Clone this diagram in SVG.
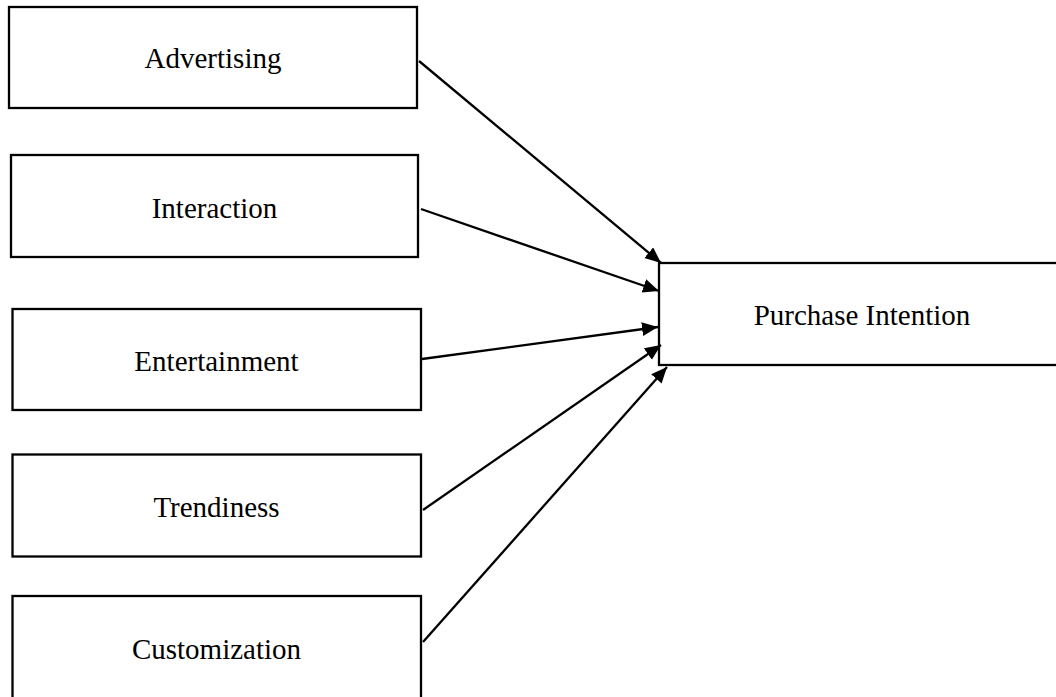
<svg xmlns="http://www.w3.org/2000/svg" width="1056" height="697" viewBox="0 0 1056 697">
<style>
.box{fill:#fff;stroke:#000;stroke-width:2.3}
.lbl{font-family:"Liberation Serif","Times New Roman",serif;font-size:29px;fill:#000;text-anchor:middle}
.conn{stroke:#000;stroke-width:2.3;fill:none;marker-end:url(#ah)}
</style>
<defs>
<marker id="ah" markerUnits="userSpaceOnUse" markerWidth="20" markerHeight="16" refX="16" refY="7" orient="auto">
<path d="M0,0 L16,7 L0,14 z" fill="#000"/>
</marker>
</defs>
<rect width="1056" height="697" fill="#fff"/>
<g id="advertising"><rect class="box" x="9" y="7" width="408" height="101"/><text class="lbl" x="213" y="68">Advertising</text></g>
<g id="interaction"><rect class="box" x="11" y="155" width="407" height="102"/><text class="lbl" x="214.5" y="218">Interaction</text></g>
<g id="entertainment"><rect class="box" x="12.5" y="309" width="408.5" height="101"/><text class="lbl" x="216.5" y="371">Entertainment</text></g>
<g id="trendiness"><rect class="box" x="12.5" y="454.5" width="408.5" height="102"/><text class="lbl" x="216.5" y="517">Trendiness</text></g>
<g id="customization"><rect class="box" x="12.5" y="596" width="408.5" height="120"/><text class="lbl" x="216.5" y="659">Customization</text></g>
<g id="purchase-intention"><rect class="box" x="659" y="263" width="420" height="102"/><text class="lbl" x="862" y="325">Purchase Intention</text></g>
<g id="connectors">
<line class="conn" x1="419" y1="61" x2="661" y2="263"/>
<line class="conn" x1="421" y1="209" x2="659" y2="291"/>
<line class="conn" x1="422" y1="359" x2="658" y2="327"/>
<line class="conn" x1="423" y1="510" x2="661" y2="345"/>
<line class="conn" x1="423" y1="642" x2="667" y2="367"/>
</g>
</svg>
